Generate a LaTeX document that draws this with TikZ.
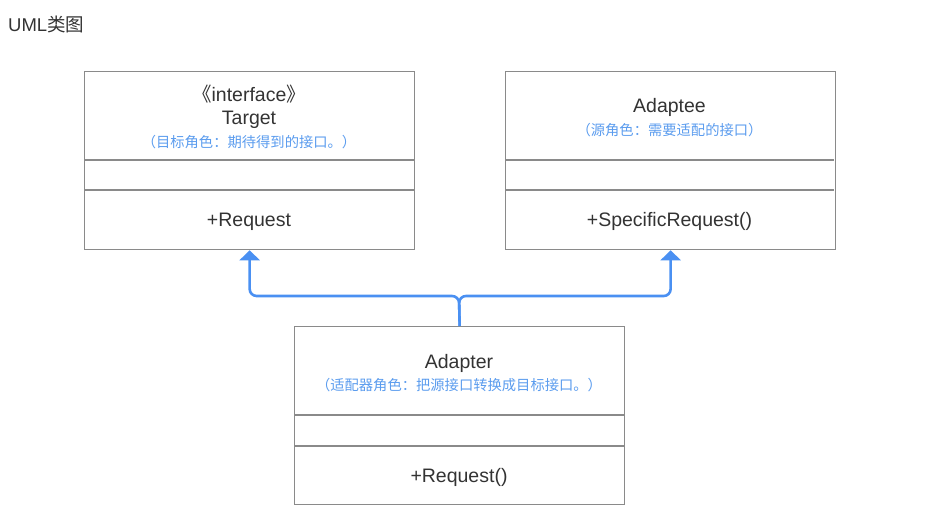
\documentclass[tikz,border=0pt]{standalone}
\usepackage{fontspec}
\setmainfont{Liberation Sans}
\newfontfamily\cjk{Noto Sans CJK SC}
\usetikzlibrary{arrows.meta}
\definecolor{boxgray}{HTML}{8A8A8A}
\definecolor{txtgray}{HTML}{333333}
\definecolor{arrblue}{HTML}{4A90F2}
\definecolor{lblblue}{HTML}{5B9CEE}
\tikzset{
  umlbox/.style={draw=boxgray, line width=1.3pt, minimum width=330pt, minimum height=178pt, inner sep=0pt, anchor=north west},
  divider/.style={draw=boxgray, line width=2pt},
  cname/.style={anchor=base, text=txtgray, font=\fontsize{19.5}{21}\selectfont, inner sep=0pt},
  clabel/.style={anchor=center, text=lblblue, font=\cjk\fontsize{14.3}{16}\selectfont, inner sep=0pt},
  realize/.style={draw=arrblue, line width=2.6pt, rounded corners=7pt, -{Triangle[width=20pt,length=10pt]}},
}
\begin{document}
\begin{tikzpicture}[x=1pt,y=-1pt]
\useasboundingbox (0,0) rectangle (942,528);
\node[anchor=base west, text=txtgray, font=\fontsize{18.5}{20}\selectfont, inner sep=0pt] (title) at (8,31) {UML{\cjk 类图}};

% Target
\node[umlbox] (target) at (84,71) {};
\draw[divider] (84,160) -- (414,160);
\draw[divider] (84,190) -- (414,190);
\node[cname] (tstereo) at (249,101) {{\cjk 《}interface{\cjk 》}};
\node[cname] (tname) at (249,124) {Target};
\node[clabel] (tlabel) at (249,142) {（目标角色：期待得到的接口。）};
\node[cname] (tmeth) at (249,226) {+Request};

% Adaptee
\node[umlbox] (adaptee) at (505,71) {};
\draw[divider] (505,160) -- (834,160);
\draw[divider] (505,190) -- (834,190);
\node[cname] (aname) at (669.5,112) {Adaptee};
\node[clabel] (alabel) at (669.5,130) {（源角色：需要适配的接口）};
\node[cname] (ameth) at (669.5,226) {+SpecificRequest()};

% Adapter
\node[umlbox] (adapter) at (294,326) {};
\draw[divider] (294,415) -- (624,415);
\draw[divider] (294,446) -- (624,446);
\node[cname] (dname) at (459,368) {Adapter};
\node[clabel] (dlabel) at (459,385) {（适配器角色：把源接口转换成目标接口。）};
\node[cname] (dmeth) at (459,482) {+Request()};

% connectors
\coordinate (j) at (459,296);
\draw[realize] (adapter.north) -- (j) -| (target.south);
\draw[realize] (adapter.north) -- (j) -| (adaptee.south);
\end{tikzpicture}
\end{document}
